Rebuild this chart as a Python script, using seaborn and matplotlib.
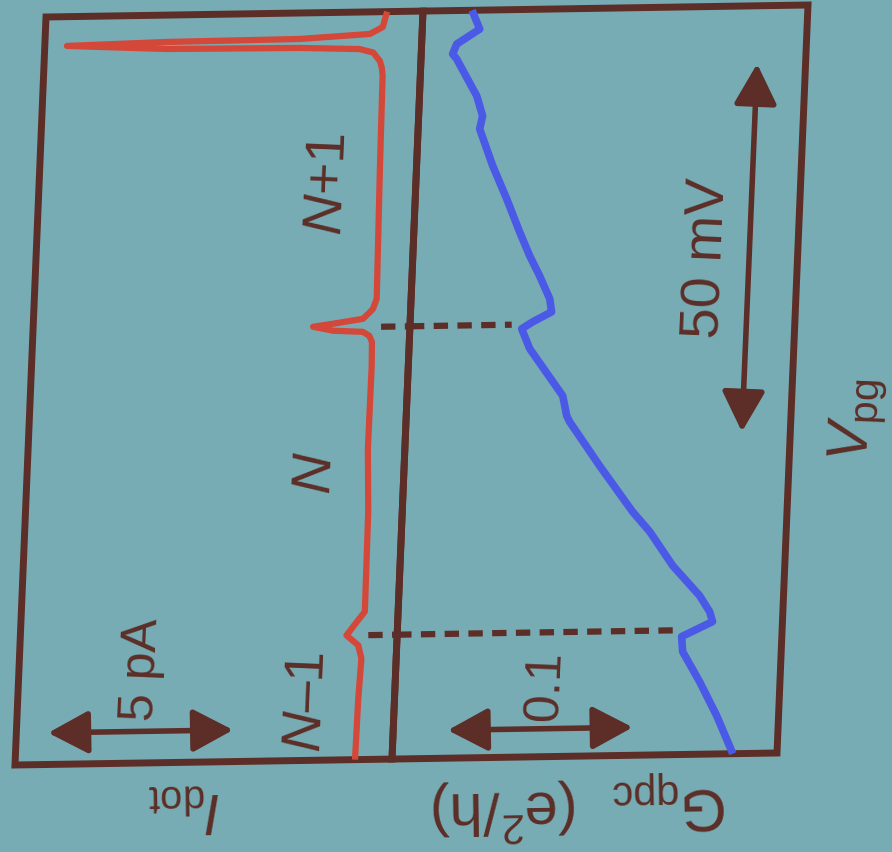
import matplotlib
matplotlib.use("Agg")
import matplotlib.pyplot as plt
from matplotlib.patches import FancyArrowPatch, Rectangle, ArrowStyle
from matplotlib.transforms import Affine2D
import pandas as pd
import seaborn as sns

# ---- data -------------------------------------------------------------
# plunger-gate voltage (mV, relative) and dot current (pA)
vpg_dot = [101.63, 99.55, 98.63, 98.10, 97.98, 97.65, 97.02, 96.88, 96.60,
           96.10, 94.93, 94.00, 92.89, 80.67, 62.61, 61.25, 60.80, 59.92,
           59.31, 58.94, 58.36, 58.15, 57.60, 56.77, 53.51, 42.24, 33.68,
           20.11, 18.49, 16.92, 15.54, 13.72, 8.30, 0.0]
i_dot = [-0.03, 0.07, 0.41, 2.30, 5.89, 8.59, 5.88, 2.29, 0.67,
         0.30, 0.11, 0.05, 0.02, -0.01, -0.07, 0.02, 0.10, 0.28,
         1.09, 1.62, 1.07, 0.27, 0.09, 0.01, -0.01, 0.00, -0.08,
         -0.10, 0.14, 0.37, 0.04, -0.06, -0.02, 0.0]

# plunger-gate voltage (mV, relative) and QPC conductance (e^2/h)
vpg_qpc = [101.63, 99.06, 97.08, 95.73, 95.04, 89.97, 87.24, 85.48, 80.42,
           75.91, 71.40, 68.12, 65.38, 62.23, 60.46, 59.14, 58.22, 55.49,
           49.02, 46.30, 45.48, 39.43, 33.11, 30.37, 25.69, 21.56, 19.36,
           18.00, 16.03, 13.98, 9.88, 5.22, 0.0]
g_qpc = [0.2216, 0.2170, 0.2291, 0.2311, 0.2288, 0.2171, 0.2135, 0.2148,
         0.2069, 0.1986, 0.1909, 0.1849, 0.1791, 0.1731, 0.1718, 0.1818,
         0.1876, 0.1828, 0.1639, 0.1613, 0.1596, 0.1424, 0.1235, 0.1138,
         0.1006, 0.0854, 0.0796, 0.0778, 0.0942, 0.0933, 0.0835, 0.0735,
         0.0639]

# charge transitions marked by dashed lines
vpg_transition = [16.9, 58.8]
i_transition_start = [-0.22, -0.22]
g_transition_end = [0.0968, 0.1931]

charge_labels = ["$N$\u20131", "$N$", "$N$+1"]

# scale bars
scale_i = 5.0      # pA
scale_g = 0.1      # e^2/h
scale_v = 50.0     # mV
scale_labels = ["5 pA", "0.1", "50 mV"]

# ---- style ------------------------------------------------------------
BG = "#78acb4"
BROWN = "#5c2e27"
RED = "#d4483a"
BLUE = "#4b5ae6"

sns.set_style("white")
plt.rcParams["font.family"] = ["Liberation Sans", "DejaVu Sans"]
plt.rcParams["mathtext.fontset"] = "custom"
plt.rcParams["mathtext.rm"] = "Liberation Sans"
plt.rcParams["mathtext.it"] = "Liberation Sans:italic"
plt.rcParams["mathtext.bf"] = "Liberation Sans:bold"

W, H = 892, 853
fig = plt.figure(figsize=(W / 100, H / 100), dpi=100, facecolor=BG)

# panel frame (pixels): left, top, divider, right, bottom
x0, x_div, x1 = 46, 423, 808
y_top, y_bot = 18, 766
ax_i = fig.add_axes([x0 / W, (H - y_bot) / H, (x_div - x0) / W, (y_bot - y_top) / H])
ax_g = fig.add_axes([x_div / W, (H - y_bot) / H, (x1 - x_div) / W, (y_bot - y_top) / H])

# projection skew of the whole slide (display pixels)
skew = Affine2D([[1.0, 0.041444, -34.606],
                 [0.015748, 1.0, -0.7244],
                 [0.0, 0.0, 1.0]])
ROT_V = 87.6     # text running upward
ROT_H = 180.9    # upside-down text

LIM_V = (0.0, 101.63)
LIM_I = (9.19, -1.0)
LIM_G = (0.2481, 0.04)

for ax, xl in ((ax_i, LIM_I), (ax_g, LIM_G)):
    ax.set_xlim(*xl)
    ax.set_ylim(*LIM_V)
    ax.set_autoscale_on(False)
    ax.axis("off")

# ---- curves -----------------------------------------------------------
df_dot = pd.DataFrame({"Vpg": vpg_dot, "Idot": i_dot})
df_qpc = pd.DataFrame({"Vpg": vpg_qpc, "Gqpc": g_qpc})

sns.lineplot(data=df_dot, x="Idot", y="Vpg", sort=False, estimator=None,
             ax=ax_i, color=RED, lw=4.5)
sns.lineplot(data=df_qpc, x="Gqpc", y="Vpg", sort=False, estimator=None,
             ax=ax_g, color=BLUE, lw=5.5)
for ax in (ax_i, ax_g):
    for ln in ax.lines:
        ln.set_transform(ax.transData + skew)
        ln.set_clip_on(False)
        ln.set_solid_joinstyle("round")
        ln.set_solid_capstyle("butt")

# dashed transition markers, running from the dot panel into the QPC panel
dash_kw = dict(color=BROWN, lw=4.5, linestyle=(0, (2.3, 1.5)),
               dash_capstyle="butt", clip_on=False)
for v, i_s, g_e in zip(vpg_transition, i_transition_start, g_transition_end):
    ax_i.plot([i_s, LIM_I[1]], [v, v], transform=ax_i.transData + skew, **dash_kw)
    ax_g.plot([LIM_G[0], g_e], [v, v], transform=ax_g.transData + skew, **dash_kw)

# frames
for ax in (ax_i, ax_g):
    ax.add_patch(Rectangle((0, 0), 1, 1, transform=ax.transAxes + skew,
                           fill=False, ec=BROWN, lw=5.0, joinstyle="miter",
                           clip_on=False))

# ---- scale bars -------------------------------------------------------
style = ArrowStyle("<|-|>", head_length=0.62, head_width=0.33)


def scale_arrow(ax, p0, p1):
    arr = FancyArrowPatch(p0, p1, arrowstyle=style, mutation_scale=40,
                          lw=4.0, color=BROWN, shrinkA=0, shrinkB=0,
                          transform=ax.transData + skew, clip_on=False)
    ax.add_patch(arr)


i0, vi = 3.33, 4.3
scale_arrow(ax_i, (i0, vi), (i0 + scale_i, vi))
g0, vg = 0.1186, 3.8
scale_arrow(ax_g, (g0, vg), (g0 + scale_g, vg))
gv, v0 = 0.0662, 43.75
scale_arrow(ax_g, (gv, v0), (gv, v0 + scale_v))

# ---- text -------------------------------------------------------------
txt_kw = dict(ha="center", va="center", rotation_mode="anchor", color=BROWN,
              clip_on=False)

ax_i.text(0.326, 0.126, scale_labels[0], transform=ax_i.transAxes + skew,
          rotation=ROT_V, fontsize=36, **txt_kw)
ax_g.text(0.390, 0.096, scale_labels[1], transform=ax_g.transAxes + skew,
          rotation=ROT_V, fontsize=36, **txt_kw)
ax_g.text(0.766, 0.665, scale_labels[2], transform=ax_g.transAxes + skew,
          rotation=ROT_V, fontsize=40, **txt_kw)

for lab, fy in zip(charge_labels, (0.079, 0.385, 0.772)):
    ax_i.text(0.770, fy, lab, transform=ax_i.transAxes + skew,
              rotation=ROT_V, fontsize=40, **txt_kw)

ax_g.text(1.172, 0.445, r"$V_{\mathrm{pg}}$", transform=ax_g.transAxes + skew,
          rotation=ROT_V, fontsize=42, **txt_kw)
ax_i.text(0.456, -0.061, r"$I_{\mathrm{dot}}$", transform=ax_i.transAxes + skew,
          rotation=ROT_H, fontsize=41, **txt_kw)
ax_g.text(0.494, -0.066, r"G$_{\mathrm{qpc}}$  (e$^{2}$/h)",
          transform=ax_g.transAxes + skew, rotation=ROT_H, fontsize=43, **txt_kw)

fig.savefig("out.png", dpi=100, facecolor=BG)
